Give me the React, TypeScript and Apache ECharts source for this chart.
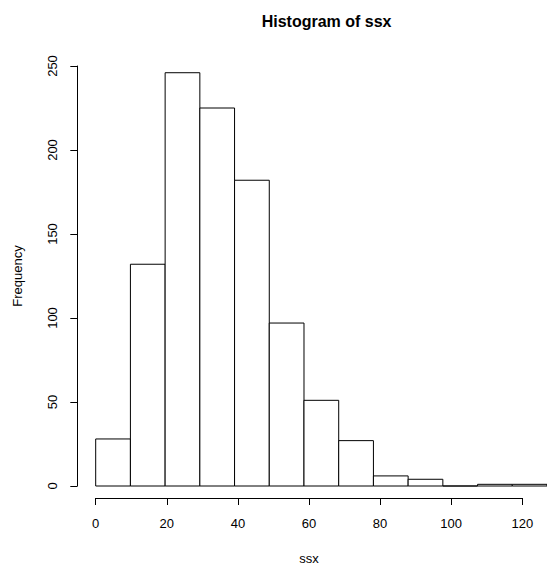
import React, { useEffect, useRef } from "react";
import * as echarts from "echarts";

const breaks = [0, 10, 20, 30, 40, 50, 60, 70, 80, 90, 100, 110, 120, 130];
const counts = [28, 132, 246, 225, 182, 97, 51, 27, 6, 4, 0, 1, 1];
const xTicks = [0, 20, 40, 60, 80, 100, 120];
const yTicks = [0, 50, 100, 150, 200, 250];
const titleText = "Histogram of ssx";
const xLabel = "ssx";
const yLabel = "Frequency";

const FONT = "'Liberation Sans', Arial, Helvetica, sans-serif";

export default function App() {
  const ref = useRef<HTMLDivElement>(null);
  useEffect(() => {
    document.body.style.margin = "0";
    if (!ref.current) return;
    const chart = echarts.init(ref.current, undefined, { renderer: "svg" });
    const data = counts.map((c, i) => [breaks[i], breaks[i + 1], c]);
    const gridLeft = 95.7;
    const gridTop = 66;
    const gridHeight = 420;
    const pxPerUnit = 3.555;
    const option: any = {
      animation: false,
      backgroundColor: "#fff",
      title: {
        text: titleText,
        left: 326.6,
        textAlign: "center",
        top: 13,
        padding: 0,
        textStyle: { fontFamily: FONT, fontSize: 16, fontWeight: "bold", color: "#000" },
      },
      grid: [
        {
          left: gridLeft,
          top: gridTop,
          height: gridHeight,
          width: (breaks[breaks.length - 1] - breaks[0]) * pxPerUnit,
        },
        {
          left: gridLeft,
          top: gridTop,
          height: gridHeight,
          width: (xTicks[xTicks.length - 1] - xTicks[0]) * pxPerUnit,
        },
      ],
      xAxis: [
        {
          gridIndex: 0,
          type: "value",
          min: breaks[0],
          max: breaks[breaks.length - 1],
          show: false,
          axisLine: { onZero: false },
        },
        {
          gridIndex: 1,
          type: "value",
          min: xTicks[0],
          max: xTicks[xTicks.length - 1],
          interval: 20,
          position: "bottom",
          offset: 17,
          splitLine: { show: false },
          axisLine: { show: true, onZero: false, lineStyle: { color: "#000", width: 1 } },
          axisTick: { show: true, length: 7, inside: false, lineStyle: { color: "#000", width: 1 } },
          axisLabel: { margin: 19, color: "#000", fontFamily: FONT, fontSize: 13 },
          name: xLabel,
          nameLocation: "middle",
          nameGap: 54,
          nameTextStyle: { fontFamily: FONT, fontSize: 13, color: "#000" },
        },
      ],
      yAxis: [
        {
          gridIndex: 0,
          type: "value",
          min: yTicks[0],
          max: yTicks[yTicks.length - 1],
          interval: 50,
          position: "left",
          offset: 18.4,
          splitLine: { show: false },
          axisLine: { show: true, onZero: false, lineStyle: { color: "#000", width: 1 } },
          axisTick: { show: true, length: 7, inside: false, lineStyle: { color: "#000", width: 1 } },
          axisLabel: { margin: 18, rotate: 90, color: "#000", fontFamily: FONT, fontSize: 13 },
          name: yLabel,
          nameLocation: "middle",
          nameGap: 53,
          nameRotate: 90,
          nameTextStyle: { fontFamily: FONT, fontSize: 13, color: "#000" },
        },
        {
          gridIndex: 1,
          type: "value",
          min: yTicks[0],
          max: yTicks[yTicks.length - 1],
          show: false,
          axisLine: { onZero: false },
        },
      ],
      series: [
        {
          type: "custom",
          xAxisIndex: 0,
          yAxisIndex: 0,
          data,
          encode: { x: [0, 1], y: 2 },
          renderItem: (params: any, api: any) => {
            const x0 = api.value(0);
            const x1 = api.value(1);
            const c = api.value(2);
            const p0 = api.coord([x0, 0]);
            const p1 = api.coord([x1, c]);
            return {
              type: "polygon",
              shape: {
                points: [
                  [p0[0], p0[1]],
                  [p1[0], p0[1]],
                  [p1[0], p1[1]],
                  [p0[0], p1[1]],
                ],
              },
              style: { fill: "#fff", stroke: "#000", lineWidth: 1 },
            };
          },
        },
        {
          type: "line",
          xAxisIndex: 1,
          yAxisIndex: 1,
          data: [],
          silent: true,
        },
      ],
    };
    chart.setOption(option);
    return () => chart.dispose();
  }, []);
  return <div ref={ref} style={{ width: 547, height: 570 }} />;
}
